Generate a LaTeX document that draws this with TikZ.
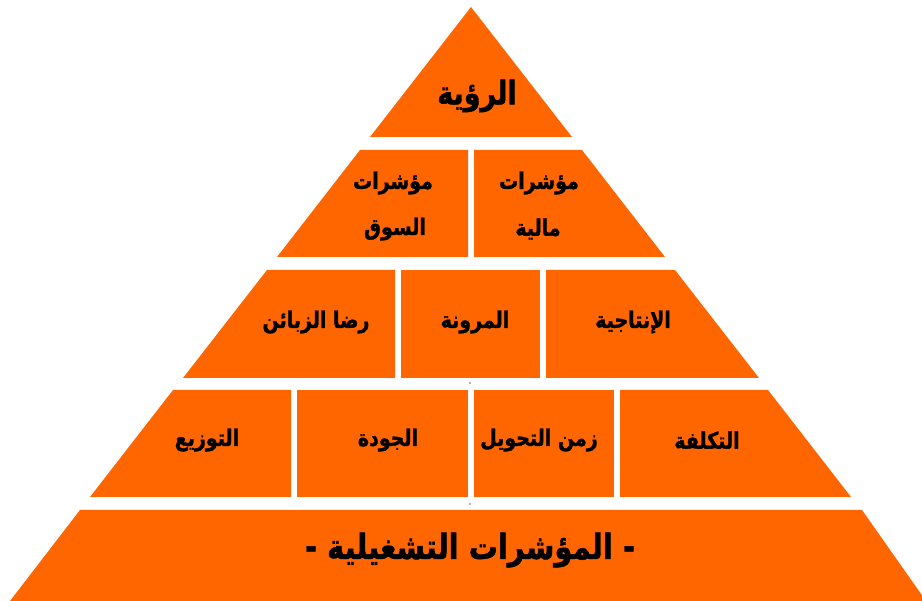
\documentclass[tikz,border=0pt]{standalone}
\usepackage{graphicx}
\usepackage{fontspec}
\newfontfamily\arabicfont[Script=Arabic,BoldFeatures={FakeBold=1.5}]{DejaVu Sans}
\TeXXeTstate=1
\definecolor{pyrorange}{HTML}{FF6600}
\newcommand{\ar}[1]{\scalebox{1}[1.2]{\arabicfont\bfseries\beginR #1\endR}}
\begin{document}
\begin{tikzpicture}[x=1pt,y=-1pt,
  block/.style={fill=pyrorange},
  lbl/.style={inner sep=0pt,text=black,font=\fontsize{19}{22}\selectfont},
  biglbl/.style={inner sep=0pt,text=black,font=\fontsize{29}{32}\selectfont},
  toplbl/.style={inner sep=0pt,text=black,font=\fontsize{27}{30}\selectfont}]
\useasboundingbox (0,0) rectangle (922,601);
% apex
\fill[block] (471,7) -- (572,137) -- (370,137) -- cycle;
% second tier
\fill[block] (360,150) -- (468,150) -- (468,257) -- (277,257) -- cycle;
\fill[block] (474,150) -- (582,150) -- (665,257) -- (474,257) -- cycle;
% third tier
\fill[block] (267,270) -- (395,270) -- (395,378) -- (183,378) -- cycle;
\fill[block] (401,270) -- (540,270) -- (540,378) -- (401,378) -- cycle;
\fill[block] (546,270) -- (675,270) -- (759,378) -- (546,378) -- cycle;
% fourth tier
\fill[block] (173,390) -- (291,390) -- (291,497) -- (90,497) -- cycle;
\fill[block] (297,390) -- (468,390) -- (468,497) -- (297,497) -- cycle;
\fill[block] (474,390) -- (614,390) -- (614,497) -- (474,497) -- cycle;
\fill[block] (620,390) -- (768,390) -- (851,497) -- (620,497) -- cycle;
% base
\fill[block] (80,510) -- (862,510) -- (926,601) -- (10,601) -- cycle;
% small specks on the axis
\fill[black!60] (470,383) circle (0.8);
\fill[black!60] (470,504) circle (0.8);
% labels
\node[toplbl] (vision) at (477,96) {\ar{الرؤية}};
\node[lbl] (mkt1) at (393,183) {\ar{مؤشرات}};
\node[lbl] (mkt2) at (395,229) {\ar{السوق}};
\node[lbl] (fin1) at (539,183) {\ar{مؤشرات}};
\node[lbl] (fin2) at (538,229) {\ar{مالية}};
\node[lbl] (cust) at (316,322) {\ar{رضا الزبائن}};
\node[lbl] (flex) at (475,322) {\ar{المرونة}};
\node[lbl] (prod) at (633,322) {\ar{الإنتاجية}};
\node[lbl] (dist) at (207,440) {\ar{التوزيع}};
\node[lbl] (qual) at (388,440) {\ar{الجودة}};
\node[lbl] (lead) at (539,440) {\ar{زمن التحويل}};
\node[lbl] (cost) at (707,440) {\ar{التكلفة}};
\node[biglbl] (ops) at (470,550) {\ar{- المؤشرات التشغيلية -}};
\end{tikzpicture}
\end{document}
